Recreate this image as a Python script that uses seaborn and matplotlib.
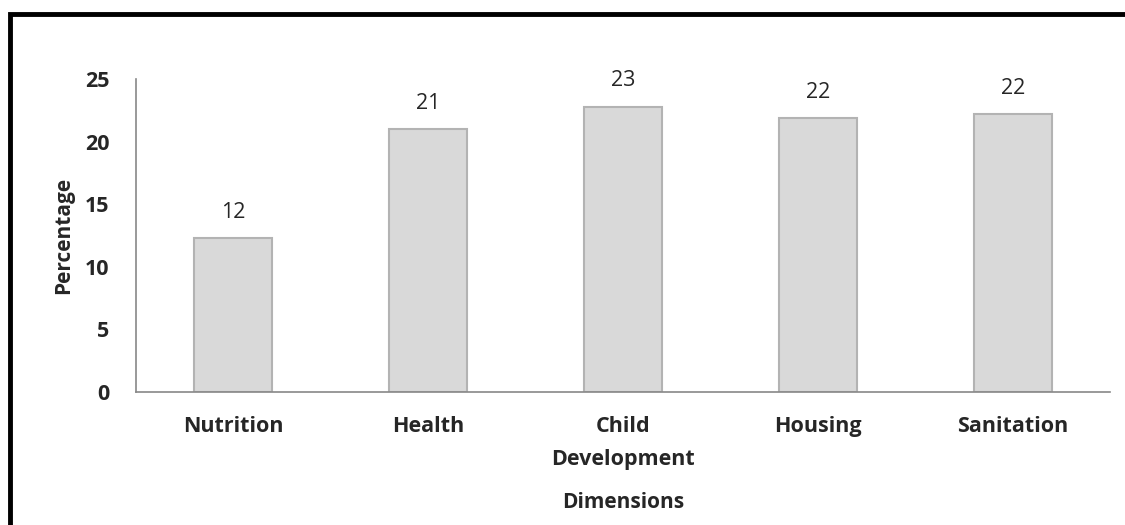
import matplotlib
matplotlib.use("Agg")
import matplotlib.pyplot as plt
import seaborn as sns
import pandas as pd
from matplotlib.patches import Rectangle

# Data
dimensions = ["Nutrition", "Health", "Child\nDevelopment", "Housing", "Sanitation"]
percentages = [12.3, 21.0, 22.8, 21.9, 22.2]
value_labels = ["12", "21", "23", "22", "22"]

df = pd.DataFrame({"Dimension": dimensions, "Percentage": percentages})

sns.set_style("white")
plt.rcParams["font.family"] = ["Open Sans", "DejaVu Sans"]

fig = plt.figure(figsize=(11.25, 5.25), dpi=100)
ax = fig.add_axes([0.1209, 0.2533, 0.8658, 0.5962])

sns.barplot(data=df, x="Dimension", y="Percentage", color="#d9d9d9",
            edgecolor="#b3b3b3", linewidth=1.5, width=0.4, saturation=1, ax=ax)

for i, (v, lab) in enumerate(zip(percentages, value_labels)):
    ax.annotate(lab, (i, v), xytext=(0, 11), textcoords="offset points",
                ha="center", va="bottom", fontsize=15.5)

ax.set_ylim(0, 25)
ax.set_xlim(-0.5, len(dimensions) - 0.5)
ax.set_yticks([0, 5, 10, 15, 20, 25])
ax.set_xticks(range(len(dimensions)))
ax.set_xticklabels(dimensions, fontsize=15.5, fontweight="bold", linespacing=1.75)
ax.set_xticks([i - 0.5 for i in range(len(dimensions) + 1)], minor=True)
ax.tick_params(axis="x", which="major", length=0, pad=17)
ax.tick_params(axis="x", which="minor", length=7, width=1.2, color="#888888", direction="out")
ax.tick_params(axis="y", length=7, width=1.2, color="#888888", direction="out", pad=12,
               labelsize=15.5)
for t in ax.get_yticklabels():
    t.set_fontweight("bold")

for s in ["top", "right"]:
    ax.spines[s].set_visible(False)
for s in ["left", "bottom"]:
    ax.spines[s].set_color("#888888")
    ax.spines[s].set_linewidth(1.2)

ax.set_ylabel("Percentage", fontsize=15, fontweight="bold", labelpad=8)
ax.set_xlabel("Dimensions", fontsize=15, fontweight="bold", labelpad=16)

# outer frame (cropped at right and bottom)
fig.patches.append(Rectangle((0.0089, -0.05), 1.05, 1.023, transform=fig.transFigure,
                             fill=False, edgecolor="black", linewidth=3.5, clip_on=False))

fig.savefig("out.png", dpi=100)
